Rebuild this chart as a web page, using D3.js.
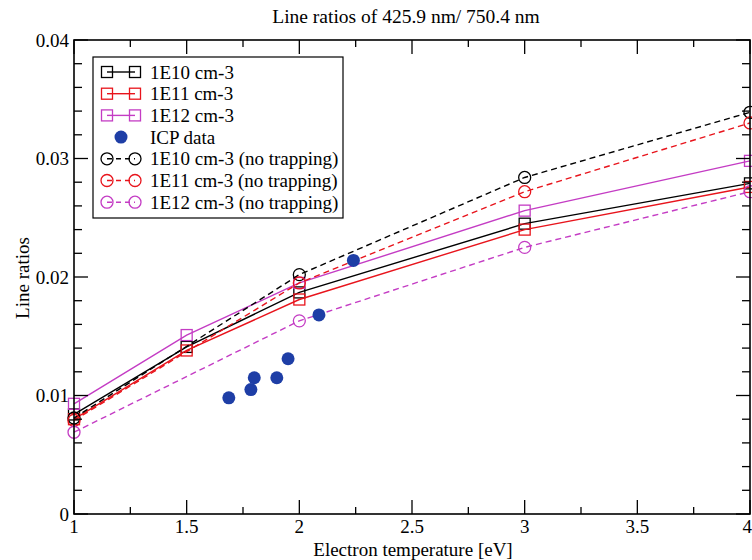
<!DOCTYPE html>
<html><head><meta charset="utf-8">
<script src="https://cdn.jsdelivr.net/npm/d3@7"></script>
<style>body{margin:0;background:#fff;overflow:hidden}svg{display:block}</style>
</head><body><svg id="c" width="752" height="560" font-family="'Liberation Serif', 'Times New Roman', Tinos, 'DejaVu Serif', serif"></svg>
<script>
const temps = [1, 1.5, 2, 3, 4];
const tempsNT = [1, 2, 3, 4];
const s1E10 = [0.0084, 0.0141, 0.0187, 0.0245, 0.0279];
const s1E11 = [0.0080, 0.0138, 0.0181, 0.0240, 0.0276];
const s1E12 = [0.0093, 0.0151, 0.0195, 0.0256, 0.0298];
const nt1E10 = [0.0081, 0.0202, 0.0284, 0.0339];
const nt1E11 = [0.0079, 0.0195, 0.0272, 0.0330];
const nt1E12 = [0.0069, 0.0163, 0.0225, 0.0272];
const icpTe = [1.687, 1.785, 1.80, 1.90, 1.95, 2.087, 2.24];
const icpRatio = [0.0098, 0.0105, 0.0115, 0.0115, 0.0131, 0.0168, 0.0214];
const xTicks = [1, 1.5, 2, 2.5, 3, 3.5, 4];
const yTicks = [0, 0.01, 0.02, 0.03, 0.04];
const legendLabels = ["1E10 cm-3", "1E11 cm-3", "1E12 cm-3", "ICP data", "1E10 cm-3 (no trapping)", "1E11 cm-3 (no trapping)", "1E12 cm-3 (no trapping)"];

const C = {black:"#000", red:"#e8141c", mag:"#c43cc4", blue:"#1e3ea6"};
const svg = d3.select("#c");
const L=74, R=750, T=40, B=514;
const x = d3.scaleLinear().domain([1,4]).range([L,R]);
const y = d3.scaleLinear().domain([0,0.04]).range([B,T]);

const series = [
  {xs:temps, ys:s1E10, c:C.black, dash:null, sym:"sq"},
  {xs:temps, ys:s1E11, c:C.red, dash:null, sym:"sq"},
  {xs:temps, ys:s1E12, c:C.mag, dash:null, sym:"sq"},
  {xs:tempsNT, ys:nt1E10, c:C.black, dash:"6,4", sym:"ci"},
  {xs:tempsNT, ys:nt1E11, c:C.red, dash:"6,4", sym:"ci"},
  {xs:tempsNT, ys:nt1E12, c:C.mag, dash:"6,4", sym:"ci"}
];
const line = d3.line().x(d=>x(d[0])).y(d=>y(d[1]));
const g = svg.append("g");
series.forEach(s=>{
  const pts = s.xs.map((v,i)=>[v,s.ys[i]]);
  g.append("path").attr("d",line(pts)).attr("fill","none").attr("stroke",s.c)
   .attr("stroke-width",1.4).attr("stroke-dasharray",s.dash);
  pts.forEach(p=>{
    if(s.sym==="sq") g.append("rect").attr("x",x(p[0])-5.5).attr("y",y(p[1])-5.5).attr("width",11).attr("height",11)
      .attr("fill","none").attr("stroke",s.c).attr("stroke-width",1.3);
    else g.append("circle").attr("cx",x(p[0])).attr("cy",y(p[1])).attr("r",6)
      .attr("fill","none").attr("stroke",s.c).attr("stroke-width",1.3);
  });
});
g.selectAll(".icp").data(icpTe.map((v,i)=>[v,icpRatio[i]])).enter().append("circle")
  .attr("cx",d=>x(d[0])).attr("cy",d=>y(d[1])).attr("r",6.5).attr("fill",C.blue);

const ax = svg.append("g");
ax.append("rect").attr("x",L).attr("y",T).attr("width",R-L).attr("height",B-T)
  .attr("fill","none").attr("stroke","#000").attr("stroke-width",1.6);
function tick(x1,y1,x2,y2){ax.append("line").attr("x1",x1).attr("y1",y1).attr("x2",x2).attr("y2",y2).attr("stroke","#000").attr("stroke-width",1.3);}
d3.range(1,4.001,0.25).forEach(v=>{
  const major = Math.abs(v*2-Math.round(v*2))<1e-6;
  const len = major?14:7;
  tick(x(v),B,x(v),B-len); tick(x(v),T,x(v),T+len);
});
d3.range(0,0.04001,0.002).forEach(v=>{
  const major = Math.abs(v*100-Math.round(v*100))<1e-6;
  const len = major?14:8;
  tick(L,y(v),L+len,y(v)); tick(R,y(v),R-len,y(v));
});
xTicks.forEach((v,i)=>{
  const last = i===xTicks.length-1;
  ax.append("text").attr("x",last?752:x(v)).attr("y",B+19).attr("text-anchor",last?"end":"middle").attr("font-size",19).text(d3.format("")(v));
});
yTicks.forEach(v=>{
  ax.append("text").attr("x",L-5).attr("y",y(v)).attr("dy","0.35em").attr("text-anchor","end").attr("font-size",19).text(v===0?"0":d3.format(".2f")(v));
});
svg.append("text").attr("x",413).attr("y",556).attr("text-anchor","middle").attr("font-size",19).text("Electron temperature [eV]");
svg.append("text").attr("transform","translate(29,278) rotate(-90)").attr("text-anchor","middle").attr("font-size",19).text("Line ratios");
svg.append("text").attr("x",406).attr("y",23).attr("text-anchor","middle").attr("font-size",19.5).text("Line ratios of 425.9 nm/ 750.4 nm");

const lg = svg.append("g");
lg.append("rect").attr("x",93).attr("y",57).attr("width",250).attr("height",161).attr("fill","#fff").attr("stroke","#000").attr("stroke-width",1.2);
const legSym = [series[0],series[1],series[2],null,series[3],series[4],series[5]];
legendLabels.forEach((t,i)=>{
  const yy = 72 + i*21.7;
  const s = legSym[i];
  if(s){
    lg.append("line").attr("x1",107).attr("x2",135).attr("y1",yy).attr("y2",yy).attr("stroke",s.c).attr("stroke-width",1.4).attr("stroke-dasharray",s.dash?"5,4":null);
    [107,135].forEach(cx=>{
      if(s.sym==="sq") lg.append("rect").attr("x",cx-5.5).attr("y",yy-5.5).attr("width",11).attr("height",11).attr("fill","none").attr("stroke",s.c).attr("stroke-width",1.3);
      else lg.append("circle").attr("cx",cx).attr("cy",yy).attr("r",6).attr("fill","none").attr("stroke",s.c).attr("stroke-width",1.3);
    });
  } else {
    lg.append("circle").attr("cx",121).attr("cy",yy).attr("r",6.5).attr("fill",C.blue);
  }
  lg.append("text").attr("x",150).attr("y",yy).attr("dy","0.35em").attr("font-size",19).text(t);
});
</script></body></html>
